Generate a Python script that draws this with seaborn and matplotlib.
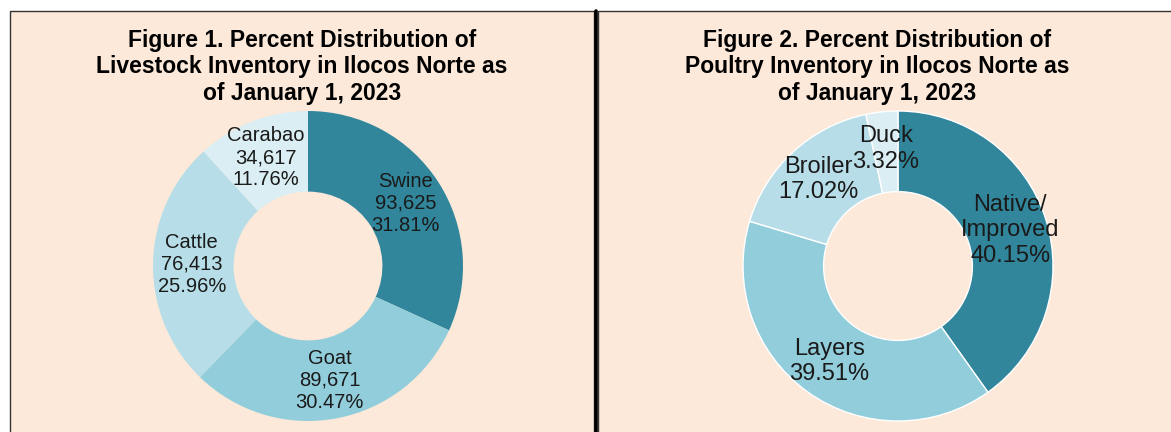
import matplotlib

matplotlib.use("Agg")
import matplotlib.pyplot as plt
from matplotlib.patches import Rectangle
from matplotlib.lines import Line2D
import seaborn as sns

# Figure 1: livestock
livestock_labels = ["Swine", "Goat", "Cattle", "Carabao"]
livestock_heads = [93625, 89671, 76413, 34617]
livestock_pct = [31.81, 30.47, 25.96, 11.76]

# Figure 2: poultry
poultry_labels = ["Native/\nImproved", "Layers", "Broiler", "Duck"]
poultry_pct = [40.15, 39.51, 17.02, 3.32]

titles = [
    "Figure 1. Percent Distribution of\nLivestock Inventory in Ilocos Norte as\nof January 1, 2023",
    "Figure 2. Percent Distribution of\nPoultry Inventory in Ilocos Norte as\nof January 1, 2023",
]

BG = "#FDE9D9"
PALETTE = sns.color_palette(["#31869B", "#92CDDC", "#B7DEE8", "#DAEEF3"])
TEXT = "#1a1a1a"

W, H = 1171, 432


def px_axes(fig, cx, cy, r):
    return fig.add_axes([(cx - r) / W, (H - cy - r) / H, 2 * r / W, 2 * r / H])


def donut(ax, values, labels, edge_lw, dist, fsize):
    wedges, texts = ax.pie(
        values,
        labels=labels,
        colors=PALETTE,
        startangle=90,
        counterclock=False,
        labeldistance=dist,
        wedgeprops=dict(width=0.52, edgecolor="white", linewidth=edge_lw),
        textprops=dict(fontsize=fsize, color=TEXT, linespacing=1.2),
    )
    for t in texts:
        t.set_ha("center")
        t.set_va("center")
    ax.set_xlim(-1.0, 1.0)
    ax.set_ylim(-1.0, 1.0)
    ax.set_aspect("equal")
    ax.axis("off")


def main():
    sns.set_theme(style="white")
    plt.rcParams["font.family"] = ["Liberation Sans", "DejaVu Sans"]

    fig = plt.figure(figsize=(W / 100, H / 100), dpi=100)
    fig.patch.set_facecolor("white")

    # panel backgrounds
    for x0, x1 in [(10, 594), (598, 1180)]:
        fig.patches.append(
            Rectangle((x0 / W, -0.05), (x1 - x0) / W, (H - 11) / H + 0.05,
                      transform=fig.transFigure, facecolor=BG,
                      edgecolor="#333333", linewidth=1.0, zorder=-5)
        )
    fig.lines.append(
        Line2D([595.5 / W, 595.5 / W], [0, (H - 11) / H], transform=fig.transFigure,
               color="black", linewidth=2.6, zorder=-4)
    )

    fig.text(302 / W, 1 - 67 / H, titles[0], ha="center", va="center",
             fontsize=16.5, fontweight="bold", color="black", linespacing=1.22)
    fig.text(877 / W, 1 - 67 / H, titles[1], ha="center", va="center",
             fontsize=16.5, fontweight="bold", color="black", linespacing=1.22)

    ax1 = px_axes(fig, 308, 266, 155)
    labels1 = [f"{n}\n{h:,}\n{p:.2f}%" for n, h, p in zip(livestock_labels, livestock_heads, livestock_pct)]
    donut(ax1, livestock_pct, labels1, 0.0, 0.75, 14.5)

    ax2 = px_axes(fig, 898, 266, 155)
    labels2 = [f"{n}\n{p:.2f}%" for n, p in zip(poultry_labels, poultry_pct)]
    donut(ax2, poultry_pct, labels2, 1.0, 0.76, 17)

    fig.savefig("out.png", dpi=100, facecolor=fig.get_facecolor())


if __name__ == "__main__":
    main()
